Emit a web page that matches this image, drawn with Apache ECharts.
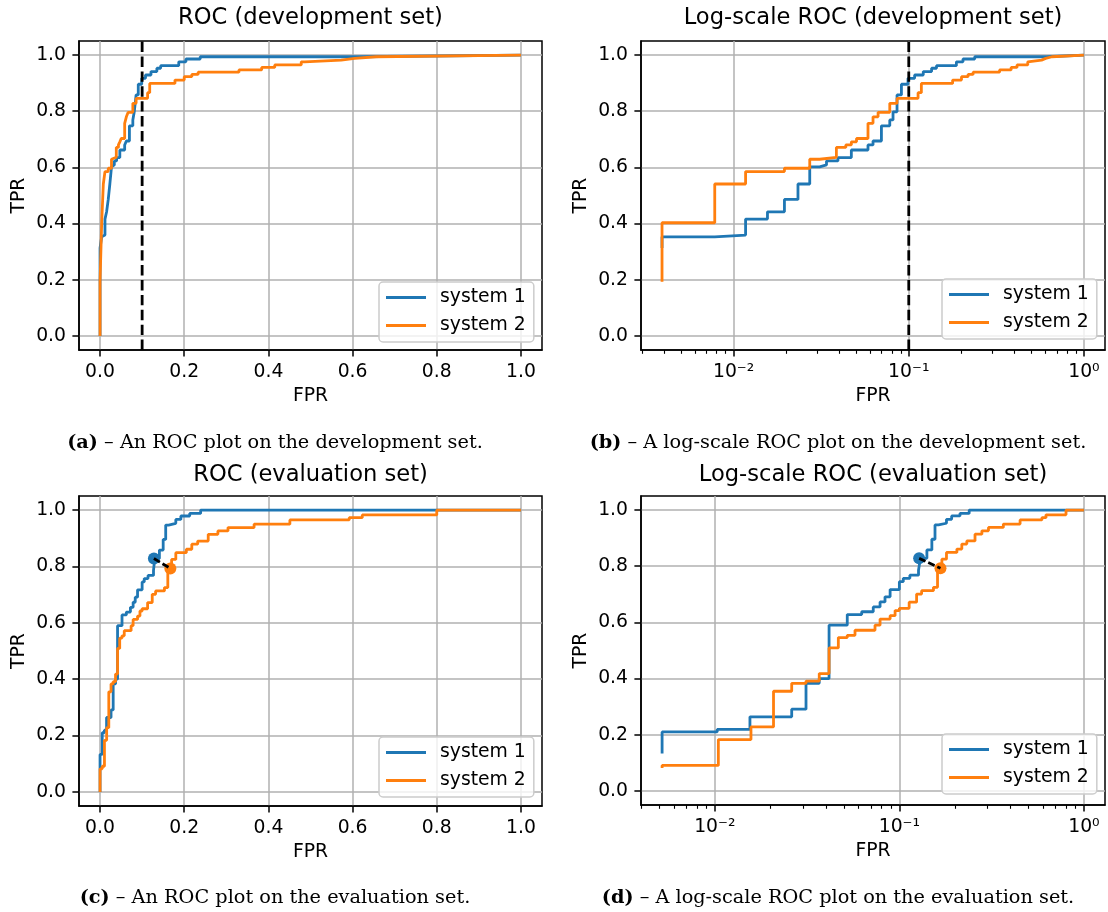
<!DOCTYPE html>
<html>
<head>
<meta charset="utf-8">
<title>ROC</title>
<script src="https://cdn.jsdelivr.net/npm/echarts@6/dist/echarts.min.js"></script>
<style>
    html, body { margin: 0; padding: 0; background: #fff; }
    .roc { width: 1108px; height: 912px; }
</style>
</head>
<body>
<div class="roc"></div>
<script>
// development set: the curve runs flat to fpr[i], then steps up to tpr[i]
var devFpr1 = [0, 0, 0.0039, 0.0078, 0.0117, 0.0156, 0.0195, 0.0233, 0.0272, 0.031, 0.0339, 0.0394, 0.047, 0.0585, 0.0625, 0.0698, 0.0779, 0.0813, 0.0857, 0.0908, 0.099, 0.108, 0.121, 0.135, 0.144, 0.187, 0.204, 0.238, 0.612, 1.0];
var devTpr1 = [0, 0.313, 0.353, 0.359, 0.416, 0.442, 0.486, 0.541, 0.602, 0.609, 0.623, 0.635, 0.662, 0.68, 0.694, 0.748, 0.769, 0.798, 0.858, 0.896, 0.917, 0.929, 0.941, 0.953, 0.962, 0.976, 0.986, 0.994, 1.0, 1.0];
var devFpr2 = [0, 0, 0.0039, 0.0078, 0.0117, 0.0195, 0.0272, 0.031, 0.0386, 0.0437, 0.047, 0.0503, 0.0585, 0.0625, 0.0668, 0.0779, 0.0857, 0.113, 0.118, 0.178, 0.2, 0.218, 0.233, 0.33, 0.384, 0.415, 0.478, 0.486, 0.573, 0.605, 0.656, 1.0];
var devTpr2 = [0, 0.193, 0.403, 0.541, 0.585, 0.597, 0.629, 0.636, 0.671, 0.68, 0.691, 0.703, 0.757, 0.78, 0.796, 0.828, 0.846, 0.866, 0.899, 0.911, 0.923, 0.931, 0.939, 0.947, 0.956, 0.965, 0.976, 0.982, 0.988, 0.994, 1.0, 1.0];

// evaluation set
var evalFpr1 = [0, 0, 0.00518, 0.0103, 0.0155, 0.0261, 0.0312, 0.0368, 0.0416, 0.0522, 0.0625, 0.0722, 0.0786, 0.0836, 0.0891, 0.1, 0.105, 0.114, 0.127, 0.13, 0.141, 0.15, 0.156, 0.163, 0.18, 0.192, 0.213, 0.239, 1.0];
var evalTpr1 = [0, 0.133, 0.21, 0.219, 0.264, 0.291, 0.383, 0.4, 0.59, 0.628, 0.638, 0.655, 0.673, 0.691, 0.717, 0.745, 0.757, 0.768, 0.786, 0.828, 0.858, 0.896, 0.947, 0.953, 0.967, 0.979, 0.988, 1.0, 1.0];
var evalFpr2 = [0, 0, 0.00518, 0.01045, 0.0157, 0.0208, 0.0261, 0.0312, 0.0368, 0.0416, 0.0467, 0.0522, 0.0575, 0.0738, 0.0786, 0.0891, 0.0948, 0.1, 0.113, 0.124, 0.132, 0.153, 0.161, 0.17, 0.18, 0.205, 0.218, 0.232, 0.257, 0.28, 0.304, 0.366, 0.451, 0.592, 0.623, 0.8, 1.0];
var evalTpr2 = [0, 0.082, 0.091, 0.183, 0.228, 0.355, 0.383, 0.391, 0.418, 0.509, 0.546, 0.554, 0.572, 0.59, 0.612, 0.624, 0.642, 0.65, 0.672, 0.701, 0.713, 0.725, 0.79, 0.825, 0.849, 0.861, 0.879, 0.89, 0.914, 0.926, 0.938, 0.95, 0.965, 0.973, 0.983, 1.0, 1.0];

// operating points on the evaluation set (system 1, system 2)
var evalMarkFpr = [0.128, 0.167];
var evalMarkTpr = [0.828, 0.793];
// fpr threshold drawn on the development plots
var devThreshold = 0.1;

var linTicks = [0, 0.2, 0.4, 0.6, 0.8, 1.0];
var logTickExp = [-2, -1, 0];
var logTickLabels = ['10⁻²', '10⁻¹', '10⁰'];
var systemNames = ['system 1', 'system 2'];

(function () {
    var FONT = 'DejaVu Sans';
    var SERIF = 'DejaVu Serif';
    var BLUE = '#1f77b4';
    var ORANGE = '#ff7f0e';

    // corner points of the step curve
    function corners(fpr, tpr) {
        var pts = [[fpr[0], tpr[0]]];
        for (var i = 1; i < fpr.length; i++) {
            pts.push([fpr[i], tpr[i - 1]]);
            pts.push([fpr[i], tpr[i]]);
        }
        return pts;
    }
    // log panels: drop fpr = 0, plot log10(fpr)
    function toLog(pts) {
        return pts.filter(function (p) { return p[0] > 0; })
            .map(function (p) { return [Math.log10(p[0]), p[1]]; });
    }
    // 2..9 x 10^k minor ticks inside [min, max]
    function minorTicks(min, max) {
        var out = [];
        for (var e = -4; e <= 0; e++) {
            for (var k = 2; k <= 9; k++) {
                var v = Math.log10(k) + e;
                if (v >= min && v <= max) out.push(v);
            }
        }
        return out;
    }

    var devRange = [-2.529, 0.1205];
    var evalRange = [-2.4, 0.1143];

    var grids = [
        {left: 79, top: 41, width: 463, height: 309},
        {left: 641, top: 41, width: 464, height: 309},
        {left: 79, top: 496, width: 463, height: 310},
        {left: 641, top: 496, width: 464, height: 309}
    ];
    grids.forEach(function (g) {
        g.show = true;
        g.borderColor = '#000';
        g.borderWidth = 1.5;
        g.containLabel = false;
    });

    var labelStyle = {color: '#000', fontSize: 18.8, fontFamily: FONT, margin: 13};
    var nameStyle = {color: '#000', fontSize: 18.8, fontFamily: FONT};
    var lineAxis = {onZero: false, lineStyle: {color: '#000', width: 1.5}};
    var gridLine = {show: true, lineStyle: {color: '#b0b0b0', width: 1.5}};

    function linX(gi) {
        return {
            type: 'value', gridIndex: gi, min: -0.05, max: 1.05,
            axisLine: lineAxis,
            axisTick: {length: 6.6, lineStyle: {color: '#000', width: 1.5}, customValues: linTicks},
            axisLabel: Object.assign({customValues: linTicks, formatter: function (v) { return v.toFixed(1); }}, labelStyle),
            splitLine: gridLine,
            name: 'FPR', nameLocation: 'middle', nameGap: 37, nameTextStyle: nameStyle
        };
    }
    function logX(gi, range) {
        return {
            type: 'value', gridIndex: gi, min: range[0], max: range[1],
            axisLine: lineAxis,
            axisTick: {length: 6.6, lineStyle: {color: '#000', width: 1.5}, customValues: logTickExp},
            axisLabel: Object.assign({
                customValues: logTickExp,
                formatter: function (v) { return logTickLabels[logTickExp.indexOf(Math.round(v))]; }
            }, labelStyle),
            splitLine: gridLine,
            name: 'FPR', nameLocation: 'middle', nameGap: 37, nameTextStyle: nameStyle
        };
    }
    function minorX(gi, range) {
        return {
            type: 'value', gridIndex: gi, min: range[0], max: range[1], position: 'bottom',
            axisLine: {show: false, onZero: false},
            axisTick: {length: 3.8, lineStyle: {color: '#000', width: 1.1}, customValues: minorTicks(range[0], range[1])},
            axisLabel: {show: false},
            splitLine: {show: false}
        };
    }
    function linY(gi) {
        return {
            type: 'value', gridIndex: gi, min: -0.05, max: 1.05,
            axisLine: lineAxis,
            axisTick: {length: 6.6, lineStyle: {color: '#000', width: 1.5}, customValues: linTicks},
            axisLabel: Object.assign({customValues: linTicks, formatter: function (v) { return v.toFixed(1); }}, labelStyle),
            splitLine: gridLine,
            name: 'TPR', nameLocation: 'middle', nameGap: 50, nameTextStyle: nameStyle
        };
    }

    function curve(name, color, xi, data) {
        return {
            name: name, type: 'line', xAxisIndex: xi, yAxisIndex: xi,
            data: data, showSymbol: false, symbol: 'none', silent: true,
            color: color, lineStyle: {color: color, width: 2.8}, z: 3
        };
    }
    function vline(xi, x) {
        return {
            name: 'threshold', type: 'line', xAxisIndex: xi, yAxisIndex: xi,
            data: [[x, -0.05], [x, 1.05]], showSymbol: false, symbol: 'none', silent: true,
            lineStyle: {color: '#000', width: 2.8, type: [10.4, 4.5]}, z: 4
        };
    }
    function marks(xi, xs) {
        var list = [];
        [BLUE, ORANGE].forEach(function (c, i) {
            list.push({
                name: 'op' + i, type: 'scatter', xAxisIndex: xi, yAxisIndex: xi,
                data: [[xs[i], evalMarkTpr[i]]], symbolSize: 12, silent: true,
                itemStyle: {color: c, opacity: 1}, z: 5
            });
        });
        list.push({
            name: 'op-link', type: 'line', xAxisIndex: xi, yAxisIndex: xi,
            data: [[xs[0], evalMarkTpr[0]], [xs[1], evalMarkTpr[1]]],
            showSymbol: false, symbol: 'none', silent: true,
            lineStyle: {color: '#000', width: 2.8, type: [7, 3]}, z: 6
        });
        return list;
    }

    var devLin1 = corners(devFpr1, devTpr1), devLin2 = corners(devFpr2, devTpr2);
    var evalLin1 = corners(evalFpr1, evalTpr1), evalLin2 = corners(evalFpr2, evalTpr2);
    var logMarkFpr = evalMarkFpr.map(function (v) { return Math.log10(v); });

    var series = [
        curve(systemNames[0], BLUE, 0, devLin1),
        curve(systemNames[1], ORANGE, 0, devLin2),
        vline(0, devThreshold),
        curve(systemNames[0], BLUE, 1, toLog(devLin1)),
        curve(systemNames[1], ORANGE, 1, toLog(devLin2)),
        vline(1, Math.log10(devThreshold)),
        curve(systemNames[0], BLUE, 2, evalLin1),
        curve(systemNames[1], ORANGE, 2, evalLin2),
        curve(systemNames[0], BLUE, 3, toLog(evalLin1)),
        curve(systemNames[1], ORANGE, 3, toLog(evalLin2))
    ].concat(marks(2, evalMarkFpr), marks(3, logMarkFpr));

    function legendAt(left, top) {
        return {
            orient: 'vertical', left: left, top: top, data: systemNames,
            icon: 'rect', itemWidth: 40, itemHeight: 2.8, itemGap: 7,
            padding: [5, 8, 6, 7], selectedMode: false,
            backgroundColor: 'rgba(255,255,255,0.8)', borderColor: '#cccccc',
            borderWidth: 1.5, borderRadius: 4,
            textStyle: {color: '#000', fontSize: 18.8, fontFamily: FONT, lineHeight: 21, padding: [0, 0, 0, 9]}
        };
    }

    function text(x, y, str, size, family, rich) {
        return {
            type: 'text', x: x, y: y, silent: true,
            style: {
                text: str, fontSize: size, fontFamily: family, fill: '#000',
                align: 'center', verticalAlign: 'middle',
                textAlign: 'center', textVerticalAlign: 'middle', rich: rich
            }
        };
    }
    var CAP = 19.3;
    var bold = {b: {fontWeight: 'bold', fontSize: CAP, fontFamily: SERIF}};

    // 1. 实例化对象
    var myChart = echarts.init(document.querySelector('.roc'), null, {renderer: 'canvas'});
    // 2. 配置
    var option = {
        animation: false,
        backgroundColor: '#fff',
        textStyle: {fontFamily: FONT},
        grid: grids,
        xAxis: [linX(0), logX(1, devRange), linX(2), logX(3, evalRange), minorX(1, devRange), minorX(3, evalRange)],
        yAxis: [linY(0), linY(1), linY(2), linY(3)],
        legend: [legendAt(379, 282), legendAt(942, 279), legendAt(379, 737), legendAt(942, 734)],
        graphic: [
            text(310.5, 18, 'ROC (development set)', 22.6, FONT),
            text(873, 18, 'Log-scale ROC (development set)', 22.6, FONT),
            text(310.5, 475, 'ROC (evaluation set)', 22.6, FONT),
            text(873, 475, 'Log-scale ROC (evaluation set)', 22.6, FONT),
            text(275, 443, '{b|(a)} – An ROC plot on the development set.', CAP, SERIF, bold),
            text(838, 443, '{b|(b)} – A log-scale ROC plot on the development set.', CAP, SERIF, bold),
            text(275, 898, '{b|(c)} – An ROC plot on the evaluation set.', CAP, SERIF, bold),
            text(838, 898, '{b|(d)} – A log-scale ROC plot on the evaluation set.', CAP, SERIF, bold)
        ],
        series: series
    };
    // 3. 绘制
    myChart.setOption(option);
})();
</script>
</body>
</html>
